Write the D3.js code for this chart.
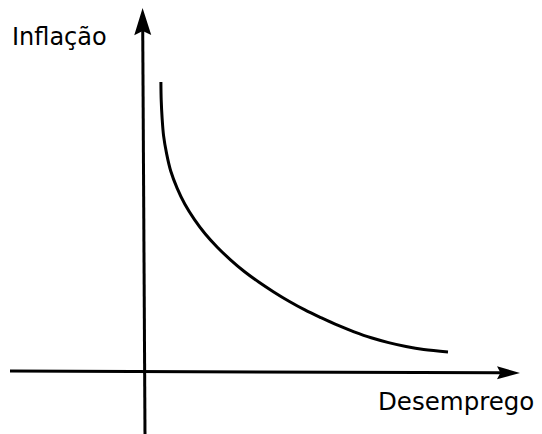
<!DOCTYPE html>
<html>
<head>
<meta charset="utf-8">
<script src="https://cdn.jsdelivr.net/npm/d3@7"></script>
<style>
  body { margin: 0; background: #fff; }
  text { font-family: "DejaVu Sans", sans-serif; fill: #000; }
</style>
</head>
<body>
<svg id="chart"></svg>
<script>
// Curva de Phillips (unidades arbitrárias)
const desemprego = [0.53, 0.54, 0.57, 0.62, 0.72, 0.86, 1.07, 1.33, 1.65, 2.01, 2.41, 2.85, 3.31, 3.79, 4.29, 4.80, 5.33, 5.87, 6.42, 6.97, 7.54, 8.12, 8.70, 9.29, 10.1];
const inflacao   = [9.67, 9.07, 8.47, 7.87, 7.28, 6.69, 6.13, 5.59, 5.08, 4.60, 4.16, 3.74, 3.35, 3.00, 2.67, 2.36, 2.07, 1.81, 1.56, 1.34, 1.14, 0.98, 0.85, 0.75, 0.67];

// extremos dos eixos (levemente inclinados como no original)
const eixoX = [[-4.5, 0.03], [12.5, -0.03]];
const eixoY = [[0, -2.07], [-0.08, 12.13]];

const labelY = "Inflação";
const labelX = "Desemprego";

const W = 542, H = 434;
const svg = d3.select('#chart').attr('width', W).attr('height', H);

const x = d3.scaleLinear().domain([0, 10]).range([145, 445]);
const y = d3.scaleLinear().domain([0, 10]).range([372, 72]);

// desenha um eixo com ponta de seta
function axisArrow(pts, len, half) {
    const p0 = [x(pts[0][0]), y(pts[0][1])];
    const p1 = [x(pts[1][0]), y(pts[1][1])];
    const a = Math.atan2(p1[1] - p0[1], p1[0] - p0[0]);
    const back = [p1[0] - len * Math.cos(a), p1[1] - len * Math.sin(a)];
    svg.append('line')
        .attr('x1', p0[0]).attr('y1', p0[1])
        .attr('x2', back[0] + 4 * Math.cos(a)).attr('y2', back[1] + 4 * Math.sin(a))
        .attr('stroke', '#000').attr('stroke-width', 3);
    const nx = -Math.sin(a), ny = Math.cos(a);
    const notch = [back[0] + len * 0.15 * Math.cos(a), back[1] + len * 0.15 * Math.sin(a)];
    const path = d3.path();
    path.moveTo(p1[0], p1[1]);
    path.lineTo(back[0] + half * nx, back[1] + half * ny);
    path.lineTo(notch[0], notch[1]);
    path.lineTo(back[0] - half * nx, back[1] - half * ny);
    path.closePath();
    svg.append('path').attr('d', path.toString()).attr('fill', '#000');
}

axisArrow(eixoX, 23, 6.5);
axisArrow(eixoY, 27, 8.5);

// curva
const data = desemprego.map((d, i) => ({u: d, p: inflacao[i]}));
const line = d3.line()
    .x(d => x(d.u))
    .y(d => y(d.p))
    .curve(d3.curveCatmullRom.alpha(0.5));

svg.append('path')
    .datum(data)
    .attr('d', line)
    .attr('fill', 'none')
    .attr('stroke', '#000')
    .attr('stroke-width', 3);

// rótulos
svg.append('text').attr('x', 12).attr('y', 45).style('font-size', '24px').text(labelY);
svg.append('text').attr('x', 378).attr('y', 410).style('font-size', '24.5px').text(labelX);
</script>
</body>
</html>
